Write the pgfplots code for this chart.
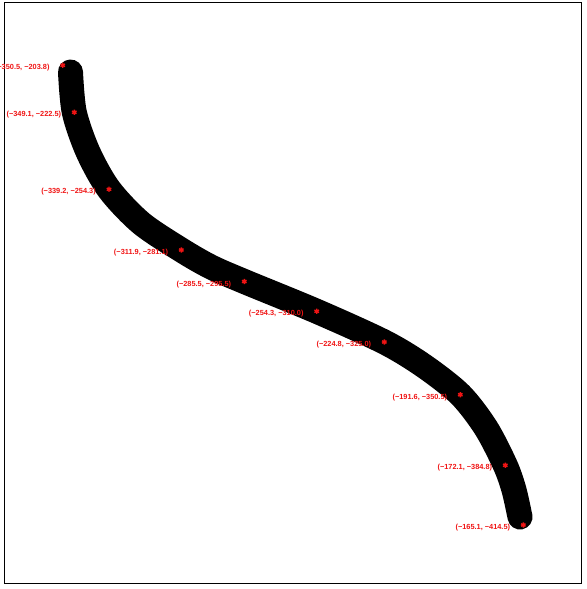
\documentclass[border=0pt]{standalone}
\usepackage{pgfplots}
\usepackage{pgfplotstable}
\pgfplotsset{compat=1.18}
\usepackage{fontspec}
\setmainfont{Liberation Sans}
\definecolor{annred}{RGB}{240,20,20}

\pgfplotstableread{
x y
70.5 72.0
74.3 112.3
88.0 152.0
109.0 189.3
141.0 223.0
181.3 250.0
211.0 267.0
244.3 281.5
316.7 311.3
384.3 342.0
424.0 366.0
460.3 394.7
486.0 428.0
505.3 465.3
514.0 490.0
520.0 517.0
}\curvedata

\pgfplotstableread{
x y label
62.7 65.3 {(−350.5, −203.8)}
74.3 112.3 {(−349.1, −222.5)}
109.0 189.3 {(−339.2, −254.3)}
181.3 250.0 {(−311.9, −281.1)}
244.3 281.5 {(−285.5, −295.5)}
316.7 311.3 {(−254.3, −310.0)}
384.3 342.0 {(−224.8, −325.0)}
460.3 394.7 {(−191.6, −350.5)}
505.3 465.3 {(−172.1, −384.8)}
523.3 525.0 {(−165.1, −414.5)}
}\pointdata

\begin{document}
\begin{tikzpicture}
\begin{axis}[
  width=577bp, height=581bp, scale only axis,
  xmin=4.3, xmax=581.3, ymin=2.3, ymax=583.3, y dir=reverse,
  xtick=\empty, ytick=\empty,
  axis line style={line width=1bp},
  clip=false,
]
\addplot[black, line width=25bp, line cap=round, line join=round, smooth, tension=0.5] table[x=x,y=y] {\curvedata};
\addplot[only marks, mark=asterisk, mark size=2.6bp, annred, line width=1.4bp,
  nodes near coords, point meta=explicit symbolic,
  nodes near coords style={anchor=east, xshift=-12.5bp, yshift=-2.6bp, text=annred,
    font=\fontsize{7.4}{8}\selectfont\bfseries, inner sep=0pt}]
  table[x=x,y=y,meta=label] {\pointdata};
\end{axis}
\pgfresetboundingbox
\path ([shift={(-4.3bp,-5.7bp)}]current axis.south west) rectangle ([shift={(5.7bp,2.3bp)}]current axis.north east);
\end{tikzpicture}
\end{document}
